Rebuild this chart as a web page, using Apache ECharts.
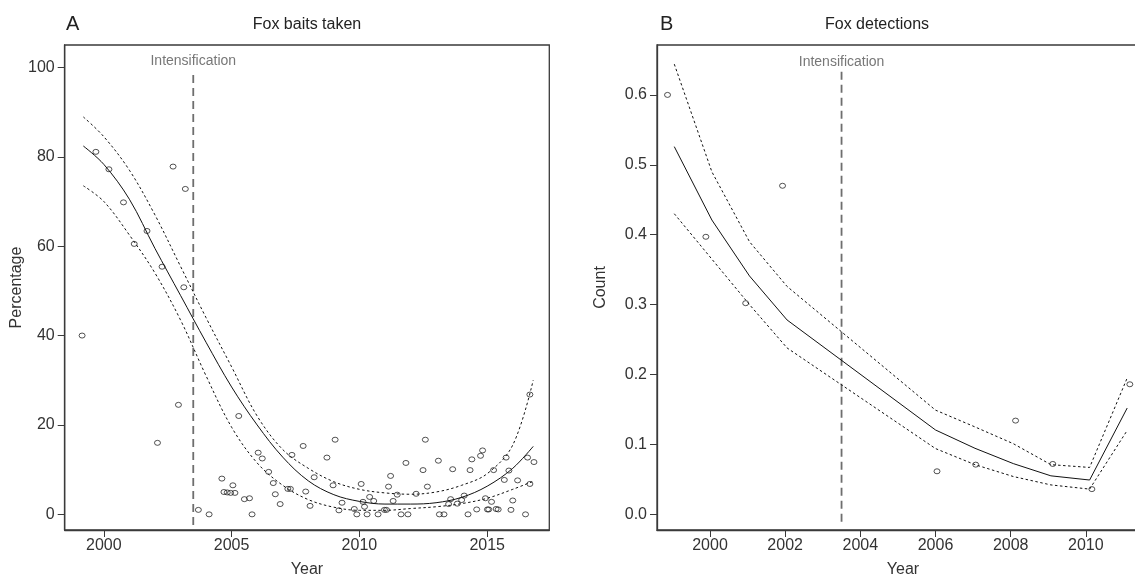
<!DOCTYPE html>
<html>
<head>
<meta charset="utf-8">
<script src="https://cdn.jsdelivr.net/npm/echarts@6/dist/echarts.min.js"></script>
<style>
  html, body { margin: 0; padding: 0; background: #fff; }
  #chart { width: 1135px; height: 579px; }
</style>
</head>
<body>
<div id="chart"></div>
<script>
// Panel A: fox baits taken (percentage)
const baitYears = [1999.15, 1999.69, 2000.2, 2000.77, 2001.19, 2001.69, 2002.1, 2002.28, 2002.71, 2002.92,
  2003.13, 2003.19, 2003.7, 2004.12, 2004.62, 2004.7, 2004.83, 2004.96, 2005.05, 2005.13,
  2005.28, 2005.5, 2005.7, 2005.8, 2006.04, 2006.2, 2006.45, 2006.63, 2006.71, 2006.9,
  2007.2, 2007.3, 2007.36, 2007.8, 2007.9, 2008.07, 2008.23, 2008.73, 2008.97, 2009.05,
  2009.2, 2009.32, 2009.8, 2009.9, 2010.07, 2010.14, 2010.2, 2010.3, 2010.4, 2010.56,
  2010.73, 2010.98, 2011.06, 2011.14, 2011.22, 2011.32, 2011.48, 2011.63, 2011.82, 2011.9,
  2012.22, 2012.49, 2012.58, 2012.66, 2013.09, 2013.13, 2013.31, 2013.49, 2013.57, 2013.65,
  2013.83, 2014.0, 2014.1, 2014.25, 2014.33, 2014.4, 2014.59, 2014.74, 2014.82, 2014.93,
  2015.01, 2015.06, 2015.17, 2015.25, 2015.35, 2015.43, 2015.67, 2015.74, 2015.85, 2015.93,
  2016.0, 2016.19, 2016.5, 2016.58, 2016.67, 2016.67, 2016.83];
const baitPct = [40, 81.1, 77.2, 69.8, 60.5, 63.4, 16, 55.4, 77.8, 24.5,
  50.8, 72.8, 1.0, 0, 8.0, 5.0, 4.9, 4.8, 6.5, 4.8,
  22.0, 3.4, 3.6, 0, 13.8, 12.5, 9.5, 7.0, 4.5, 2.3,
  5.7, 5.7, 13.3, 15.3, 5.1, 1.9, 8.3, 12.7, 6.5, 16.7,
  0.9, 2.6, 1.2, 0, 6.8, 2.8, 1.7, 0, 3.9, 3.0,
  0, 1.0, 1.0, 6.2, 8.6, 3.0, 4.4, 0, 11.5, 0,
  4.6, 9.9, 16.7, 6.2, 12.0, 0, 0, 2.3, 3.4, 10.1,
  2.4, 3.2, 4.2, 0, 9.9, 12.3, 1.1, 13.1, 14.3, 3.6,
  1.1, 1.1, 2.8, 9.9, 1.2, 1.1, 7.7, 12.7, 9.8, 1.0,
  3.1, 7.6, 0, 12.7, 6.8, 26.8, 11.7];
const baitFitYears = [1999.2, 2000, 2001, 2002, 2003, 2004, 2005, 2006, 2007, 2008, 2009, 2010, 2011, 2012, 2013, 2014, 2015, 2016, 2016.8];
const baitFit   = [82.4, 78.3, 70.5, 59.5, 49, 38.5, 28.5, 20, 12.8, 7.5, 4.4, 2.9, 2.3, 2.3, 2.6, 3.8, 6.3, 10.3, 15.2];
const baitUpper = [88.9, 84.5, 77, 67, 55.5, 44, 33, 22, 14.5, 10.3, 7.3, 5.6, 4.8, 4.5, 5, 6.5, 9.1, 15.5, 30];
const baitLower = [73.5, 70, 62.5, 54, 43.5, 31, 19.5, 11.5, 6.5, 3.3, 1.6, 0.9, 0.9, 1.3, 1.7, 2.4, 3.6, 5.6, 7.4];
const baitXTicks = [2000, 2005, 2010, 2015];
const baitYTicks = [0, 20, 40, 60, 80, 100];

// Panel B: fox detections (count)
const detYears = [1998.87, 1999.89, 2000.95, 2001.93, 2006.04, 2007.07, 2008.13, 2009.12, 2010.16, 2011.17];
const detCount = [0.600, 0.397, 0.302, 0.470, 0.0615, 0.071, 0.134, 0.072, 0.036, 0.186];
const detFitYears = [1999.05, 2000.05, 2001.05, 2002.05, 2006.0, 2007.05, 2008.07, 2009.07, 2010.1, 2011.1];
const detFit   = [0.526, 0.421, 0.341, 0.278, 0.1206, 0.0944, 0.0725, 0.055, 0.049, 0.152];
const detUpper = [0.644, 0.49, 0.39, 0.326, 0.149, 0.125, 0.101, 0.071, 0.067, 0.195];
const detLower = [0.43, 0.365, 0.30, 0.238, 0.094, 0.071, 0.054, 0.042, 0.036, 0.12];
const detXTicks = [2000, 2002, 2004, 2006, 2008, 2010];
const detYTicks = [0, 0.1, 0.2, 0.3, 0.4, 0.5, 0.6];

// intensification year, and the vertical extent of its dashed line in each panel
const intensYear = 2003.5;
const intensSpanA = [98.3, -2.4];
const intensSpanB = [0.633, -0.012];

const FONT = "'Liberation Sans', Arial, sans-serif";
const AXIS_COL = '#3a3a3a';

function zip(xs, ys) {
  return xs.map((x, i) => [x, ys[i]]);
}

function xAxisOf(gridIndex, min, max, ticks) {
  return {
    type: 'value', gridIndex, min, max,
    name: 'Year', nameLocation: 'middle', nameGap: 32,
    nameTextStyle: { fontFamily: FONT, fontSize: 16, color: '#333' },
    axisLine: { show: true, onZero: false, lineStyle: { color: AXIS_COL, width: 1.3 } },
    splitLine: { show: false },
    axisTick: { show: true, inside: false, length: 7, customValues: ticks, lineStyle: { color: AXIS_COL, width: 1 } },
    axisLabel: { customValues: ticks, margin: 8, fontFamily: FONT, fontSize: 16, color: '#333', formatter: v => String(v) }
  };
}

function yAxisOf(gridIndex, min, max, ticks, name, gap, fmt) {
  return {
    type: 'value', gridIndex, min, max,
    name, nameLocation: 'middle', nameGap: gap, nameRotate: 90,
    nameTextStyle: { fontFamily: FONT, fontSize: 16, color: '#333' },
    axisLine: { show: true, onZero: false, lineStyle: { color: AXIS_COL, width: 1.3 } },
    splitLine: { show: false },
    axisTick: { show: true, inside: false, length: 7, customValues: ticks, lineStyle: { color: AXIS_COL, width: 1 } },
    axisLabel: { customValues: ticks, margin: 10, fontFamily: FONT, fontSize: 16, color: '#333', formatter: fmt }
  };
}

function scatterOf(idx, xs, ys) {
  return {
    type: 'scatter', xAxisIndex: idx, yAxisIndex: idx,
    data: zip(xs, ys),
    symbol: 'circle', symbolSize: [6, 5],
    itemStyle: { color: 'rgba(0,0,0,0)', borderColor: '#111', borderWidth: 0.9 },
    silent: true, z: 4
  };
}

function fitOf(idx, xs, ys, dashed, smooth) {
  return {
    type: 'line', xAxisIndex: idx, yAxisIndex: idx,
    data: zip(xs, ys),
    showSymbol: false, smooth: smooth ? 0.35 : false,
    lineStyle: { color: '#111', width: 1, type: dashed ? [2.5, 2.5] : 'solid' },
    silent: true, z: 3
  };
}

function intensOf(idx, span, gap) {
  return {
    type: 'line', xAxisIndex: idx, yAxisIndex: idx,
    data: [
      { value: [intensYear, span[0]], label: { show: true, position: 'top', distance: gap, formatter: 'Intensification' } },
      { value: [intensYear, span[1]] }
    ],
    showSymbol: true, symbol: 'circle', symbolSize: 1,
    itemStyle: { color: 'rgba(0,0,0,0)' },
    label: { fontFamily: FONT, fontSize: 14, color: '#777' },
    lineStyle: { color: '#6e6e6e', width: 1.8, type: [8, 5] },
    silent: true, z: 2
  };
}

const chart = echarts.init(document.getElementById('chart'), null, { renderer: 'canvas' });

const gridBase = {
  top: 45, height: 485, show: true, containLabel: false, outerBoundsMode: 'none',
  borderColor: AXIS_COL, borderWidth: 1.3, backgroundColor: 'transparent'
};

chart.setOption({
  backgroundColor: '#fff',
  animation: false,
  title: [
    { text: 'A', left: 61, top: 9, textStyle: { fontFamily: FONT, fontSize: 20, fontWeight: 'normal', color: '#222' } },
    { text: 'Fox baits taken', left: 302, top: 12, textAlign: 'center', textStyle: { fontFamily: FONT, fontSize: 16, fontWeight: 'normal', color: '#222' } },
    { text: 'B', left: 655, top: 9, textStyle: { fontFamily: FONT, fontSize: 20, fontWeight: 'normal', color: '#222' } },
    { text: 'Fox detections', left: 872, top: 12, textAlign: 'center', textStyle: { fontFamily: FONT, fontSize: 16, fontWeight: 'normal', color: '#222' } }
  ],
  grid: [
    Object.assign({}, gridBase, { left: 64.7, width: 484.6 }),
    Object.assign({}, gridBase, { left: 657, width: 492 })
  ],
  xAxis: [
    xAxisOf(0, 1998.47, 2017.43, baitXTicks),
    xAxisOf(1, 1998.59, 2011.68, detXTicks)
  ],
  yAxis: [
    yAxisOf(0, -3.5, 105, baitYTicks, 'Percentage', 40, v => String(v)),
    yAxisOf(1, -0.0225, 0.6714, detYTicks, 'Count', 48, v => v.toFixed(1))
  ],
  series: [
    intensOf(0, intensSpanA, 6),
    fitOf(0, baitFitYears, baitUpper, true, true),
    fitOf(0, baitFitYears, baitLower, true, true),
    fitOf(0, baitFitYears, baitFit, false, true),
    scatterOf(0, baitYears, baitPct),
    intensOf(1, intensSpanB, 2),
    fitOf(1, detFitYears, detUpper, true, false),
    fitOf(1, detFitYears, detLower, true, false),
    fitOf(1, detFitYears, detFit, false, false),
    scatterOf(1, detYears, detCount)
  ]
});
</script>
</body>
</html>
